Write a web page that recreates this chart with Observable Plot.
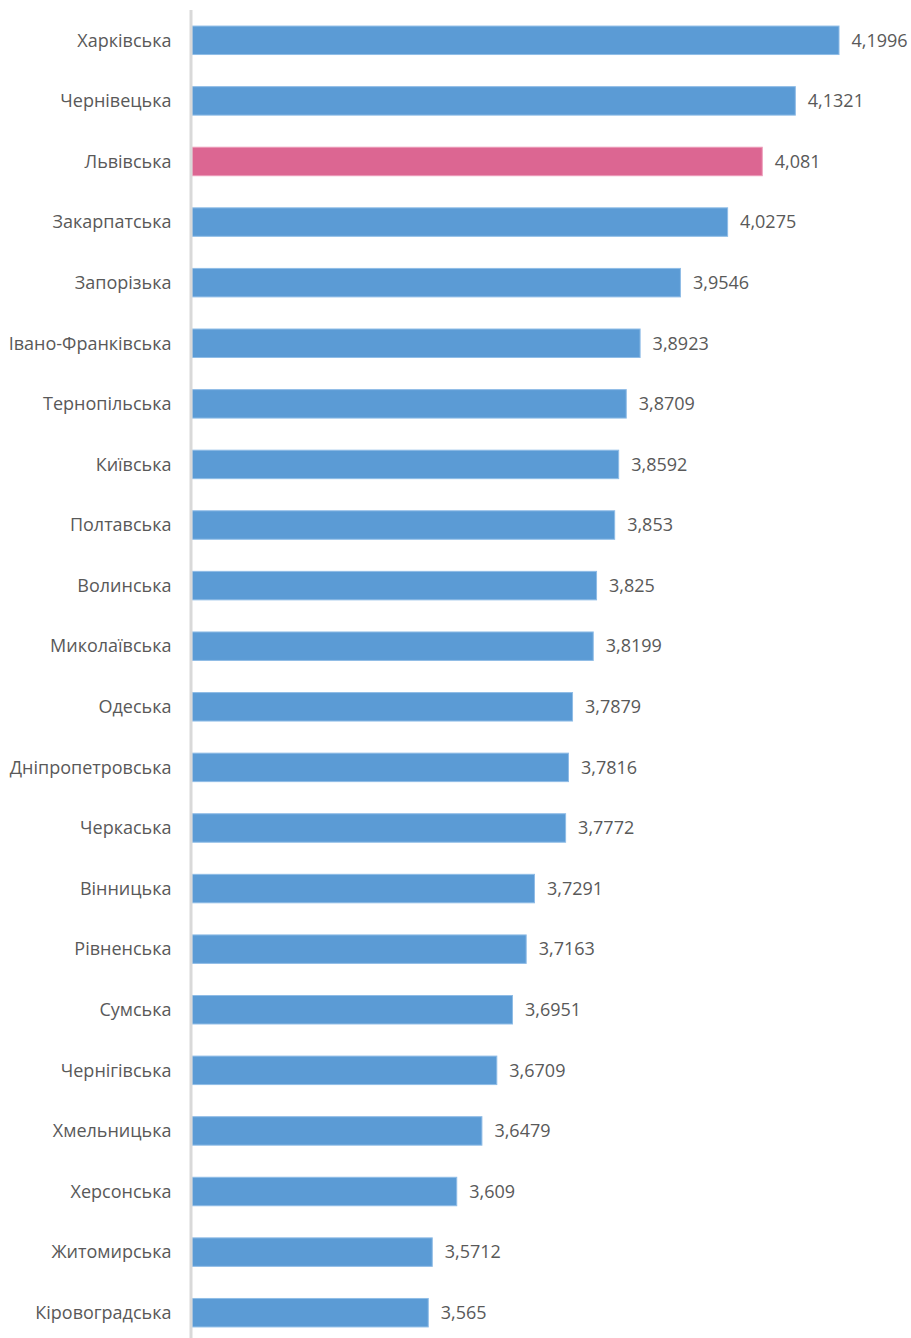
<!DOCTYPE html>
<html>
<head>
<meta charset="utf-8">
<script src="https://cdn.jsdelivr.net/npm/d3@7"></script>
<script src="https://cdn.jsdelivr.net/npm/@observablehq/plot@0.6"></script>
<style>
  html, body { margin: 0; padding: 0; background: #fff; }
  #chart svg { display: block; }
</style>
</head>
<body>
<div id="chart"></div>
<script>
const regions = ["Харківська","Чернівецька","Львівська","Закарпатська","Запорізька","Івано-Франківська","Тернопільська","Київська","Полтавська","Волинська","Миколаївська","Одеська","Дніпропетровська","Черкаська","Вінницька","Рівненська","Сумська","Чернігівська","Хмельницька","Херсонська","Житомирська","Кіровоградська"];
const values = [4.1996,4.1321,4.081,4.0275,3.9546,3.8923,3.8709,3.8592,3.853,3.825,3.8199,3.7879,3.7816,3.7772,3.7291,3.7163,3.6951,3.6709,3.6479,3.609,3.5712,3.565];
const highlighted = ["Львівська"];

const data = regions.map((r, i) => ({region: r, value: values[i], hi: highlighted.includes(r)}));
const fmt = v => String(v).replace(".", ",");

const chart = Plot.plot({
  width: 911,
  height: 1338,
  marginLeft: 192,
  marginRight: 7,
  marginTop: 10,
  marginBottom: 0,
  style: {fontFamily: "'Open Sans', sans-serif", fontSize: "18px", color: "#595959", background: "#fff"},
  x: {domain: [3.2, 4.3], axis: null},
  y: {domain: regions, range: [10, 1343], paddingInner: 0.53, paddingOuter: 0.265, round: false, label: null},
  marks: [
    Plot.barX(data, {y: "region", x1: 3.2, x2: "value", fill: d => d.hi ? "#dc6692" : "#5b9bd5", stroke: d => d.hi ? "#ec9ab8" : "#8fbce6", strokeWidth: 1}),
    Plot.text(data, {y: "region", x: "value", text: d => fmt(d.value), textAnchor: "start", dx: 12, fill: "#595959", fontSize: 18}),
    Plot.ruleX([3.2], {stroke: "#d9d9d9", strokeWidth: 3, dx: -1.5}),
    Plot.axisY({tickSize: 0, tickPadding: 21, fill: "#595959", fontSize: 18, label: null})
  ]
});
document.getElementById("chart").appendChild(chart);
</script>
</body>
</html>
